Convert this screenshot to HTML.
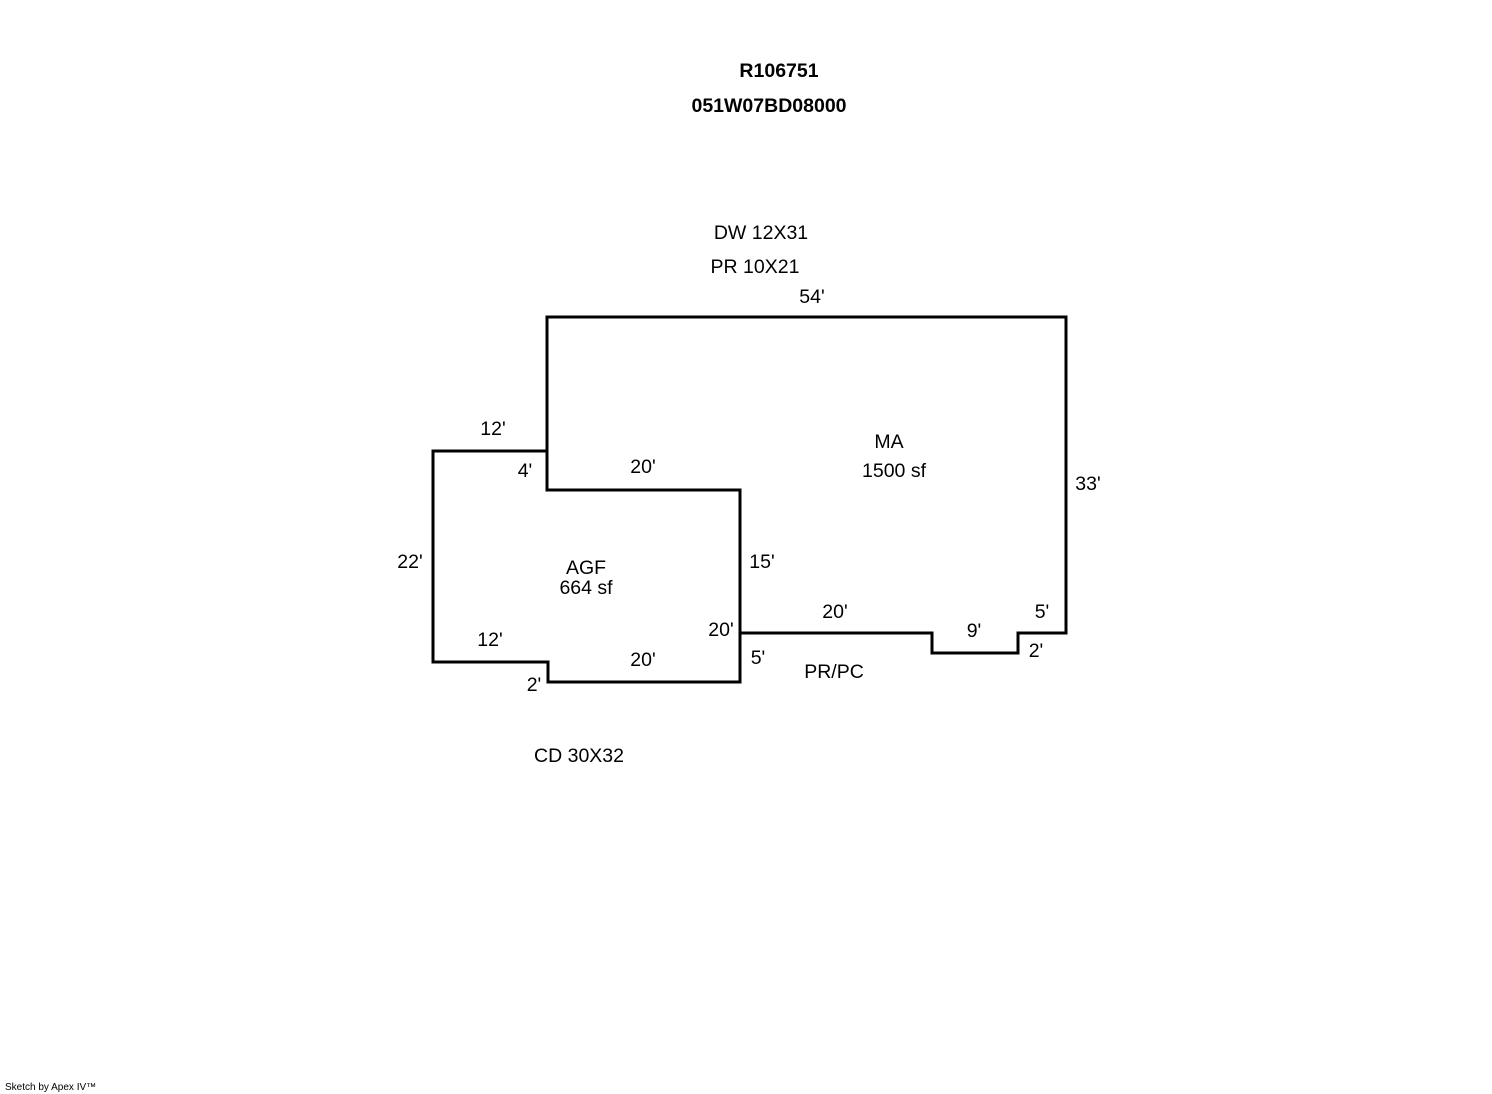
<!DOCTYPE html>
<html><head><meta charset="utf-8"><style>
html,body{margin:0;padding:0;background:#fff}
svg{display:block}
text{font-family:"Liberation Sans",Arial,sans-serif;font-size:19.5px;fill:#000}
.b{font-weight:bold;font-size:19.5px}
</style></head><body>
<svg width="1492" height="1094" viewBox="0 0 1492 1094" xmlns="http://www.w3.org/2000/svg">
<g fill="none" stroke="#000" stroke-width="3" stroke-linejoin="miter">
<polygon points="547,317 1066,317 1066,633 1018,633 1018,653 932,653 932,633 740,633 740,490 547,490"/>
<polygon points="433,451 547,451 547,490 740,490 740,682 548,682 548,662 433,662"/>
</g>
<text class="b" x="779" y="77" text-anchor="middle">R106751</text>
<text class="b" x="769" y="112" text-anchor="middle">051W07BD08000</text>
<text x="761" y="239" text-anchor="middle">DW 12X31</text>
<text x="755" y="273" text-anchor="middle">PR 10X21</text>
<text x="812" y="303" text-anchor="middle">54'</text>
<text x="889" y="448" text-anchor="middle">MA</text>
<text x="894" y="477" text-anchor="middle">1500 sf</text>
<text x="1088" y="490" text-anchor="middle">33'</text>
<text x="493" y="435" text-anchor="middle">12'</text>
<text x="525" y="477" text-anchor="middle">4'</text>
<text x="643" y="473" text-anchor="middle">20'</text>
<text x="410" y="568" text-anchor="middle">22'</text>
<text x="586" y="574" text-anchor="middle">AGF</text>
<text x="586" y="594" text-anchor="middle">664 sf</text>
<text x="762" y="568" text-anchor="middle">15'</text>
<text x="721" y="636" text-anchor="middle">20'</text>
<text x="835" y="618" text-anchor="middle">20'</text>
<text x="974" y="637" text-anchor="middle">9'</text>
<text x="1042" y="618" text-anchor="middle">5'</text>
<text x="1036" y="657" text-anchor="middle">2'</text>
<text x="490" y="646" text-anchor="middle">12'</text>
<text x="643" y="666" text-anchor="middle">20'</text>
<text x="758" y="664" text-anchor="middle">5'</text>
<text x="834" y="678" text-anchor="middle">PR/PC</text>
<text x="534" y="691" text-anchor="middle">2'</text>
<text x="579" y="762" text-anchor="middle">CD 30X32</text>
<text x="5" y="1090" style="font-size:10px">Sketch by Apex IV™</text>
</svg>
</body></html>
